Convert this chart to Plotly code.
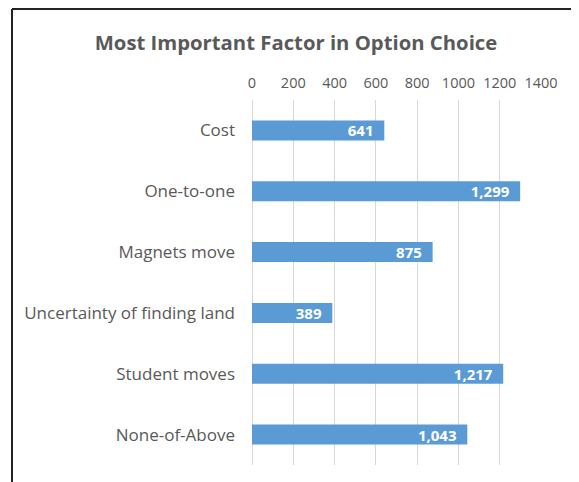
import plotly.graph_objects as go

categories = ["Cost", "One-to-one", "Magnets move", "Uncertainty of finding land", "Student moves", "None-of-Above"]
values = [641, 1299, 875, 389, 1217, 1043]
tick_vals = [0, 200, 400, 600, 800, 1000, 1200, 1400]

FONT = "Open Sans"
OFF = 8  # page body margin offset
fig = go.Figure(go.Bar(
    y=categories, x=values, orientation="h",
    marker=dict(color="#5B9BD5", line=dict(width=0)),
    texttemplate="<b>%{x:,}</b>\u00a0\u00a0",
    textposition="inside", insidetextanchor="end", constraintext="none",
    textfont=dict(color="white", size=15, family=FONT),
    width=0.33,
))

W, H = 579 - OFF, 482 - OFF
L = 252 - OFF
T = 100 - OFF
R = W - (541 - OFF)
B = H - (465 - OFF)
pw, ph = W - L - R, H - T - B
def px(x): return (x - OFF - L) / pw
def py(y): return 1 - (y - OFF - T) / ph

fig.update_layout(
    width=W, height=H,
    margin=dict(l=L, r=R, t=T, b=B),
    paper_bgcolor="white", plot_bgcolor="white",
    showlegend=False,
    title=dict(text="<b>Most Important Factor in Option Choice</b>",
               x=(296 - OFF) / W, xanchor="center", y=1 - (43 - OFF) / H, yanchor="middle",
               font=dict(family=FONT, size=20.3, color="#595959")),
    xaxis=dict(side="top", range=[0, 1400], tickvals=tick_vals,
               showgrid=True, gridcolor="#D9D9D9", gridwidth=1,
               zeroline=True, zerolinecolor="#D9D9D9", zerolinewidth=1,
               showline=False, ticks="", ticklabelstandoff=8,
               tickfont=dict(family=FONT, size=14.5, color="#595959")),
    yaxis=dict(autorange="reversed", showgrid=False, showline=False, ticks="",
               ticklabelstandoff=16,
               tickfont=dict(family=FONT, size=17, color="#595959")),
    shapes=[
        dict(type="line", xref="paper", yref="paper", x0=px(12), x1=px(12), y0=py(9), y1=py(500),
             line=dict(color="#222222", width=2)),
        dict(type="line", xref="paper", yref="paper", x0=px(12), x1=px(576), y0=py(9), y1=py(9),
             line=dict(color="#222222", width=2)),
        dict(type="line", xref="paper", yref="paper", x0=px(576), x1=px(576), y0=py(9), y1=py(500),
             line=dict(color="#222222", width=2)),
    ],
)
fig.write_html("out.html")
